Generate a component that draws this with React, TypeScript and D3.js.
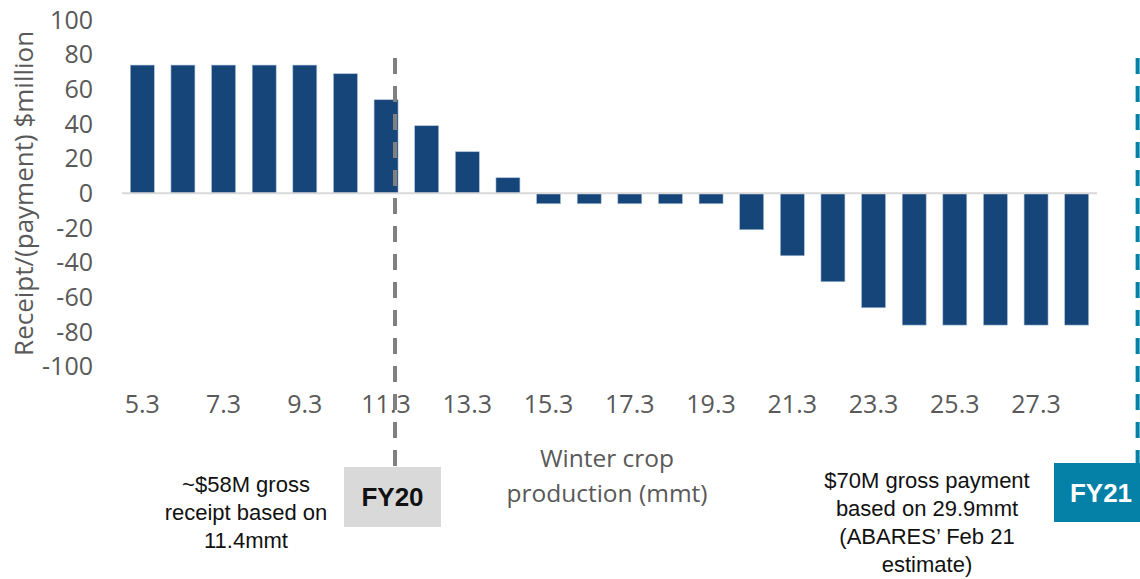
import React from "react";
import * as d3 from "d3";

const categories: string[] = [
  "5.3", "6.3", "7.3", "8.3", "9.3", "10.3", "11.3", "12.3", "13.3", "14.3", "15.3", "16.3",
  "17.3", "18.3", "19.3", "20.3", "21.3", "22.3", "23.3", "24.3", "25.3", "26.3", "27.3", "28.3",
];
const values: number[] = [
  74, 74, 74, 74, 74, 69, 54, 39, 24, 9, -6, -6,
  -6, -6, -6, -21, -36, -51, -66, -76, -76, -76, -76, -76,
];
const yTicks: number[] = [100, 80, 60, 40, 20, 0, -20, -40, -60, -80, -100];
const yTitle = "Receipt/(payment) $million";
const xTitle: string[] = ["Winter crop", "production (mmt)"];
const fy20Lines: string[] = ["~$58M gross", "receipt based on", "11.4mmt"];
const fy21Lines: string[] = ["$70M gross payment", "based on 29.9mmt", "(ABARES\u2019 Feb 21", "estimate)"];
// marker positions in mmt (on the category axis)
const fy20Pos = 11.52;
const fy21Pos = 29.8;

const W = 1140;
const H = 579;
const left = 122;
const right = 1097;
const yTop = 20;
const yBottom = 366.7;

const barColor = "#16457a";
const grey = "#595959";
const teal = "#0580a7";

export default function App() {
  const x = d3
    .scaleBand<string>()
    .domain(categories)
    .range([left, right])
    .paddingInner(0.41)
    .paddingOuter(0.205);
  const y = d3.scaleLinear().domain([-100, 100]).range([yBottom, yTop]);
  const step = x.step();
  const firstCenter = (x(categories[0]) as number) + x.bandwidth() / 2;
  const xPos = d3
    .scaleLinear()
    .domain([5.3, 6.3])
    .range([firstCenter, firstCenter + step]);

  const sans = "'Open Sans', 'Noto Sans', sans-serif";
  const arial = "'Liberation Sans', Arial, sans-serif";

  return (
    <div style={{ position: "absolute", left: 0, top: 0 }}>
      <svg width={W} height={H} style={{ display: "block" }}>
        <rect x={0} y={0} width={W} height={H} fill="#ffffff" />
        {/* bars */}
        {categories.map((c, i) => {
          const v = values[i];
          const y0 = y(0);
          const y1 = y(v);
          return (
            <rect
              key={c}
              x={x(c)}
              y={Math.min(y0, y1)}
              width={x.bandwidth()}
              height={Math.abs(y1 - y0)}
              fill={barColor}
              stroke="#a9bfd6"
              strokeWidth={0.6}
            />
          );
        })}
        {/* zero line */}
        <line x1={left} x2={right} y1={y(0)} y2={y(0)} stroke="#d9d9d9" strokeWidth={2} />
        {/* y tick labels */}
        {yTicks.map((t) => (
          <text
            key={t}
            x={93}
            y={y(t)}
            dy="0.35em"
            textAnchor="end"
            fontFamily={sans}
            fontSize={25}
            fill={grey}
          >
            {t}
          </text>
        ))}
        {/* x tick labels */}
        {categories.map((c, i) =>
          i % 2 === 0 ? (
            <text
              key={c}
              x={(x(c) as number) + x.bandwidth() / 2}
              y={413}
              textAnchor="middle"
              fontFamily={sans}
              fontSize={25}
              fill={grey}
            >
              {c}
            </text>
          ) : null
        )}
        {/* y title */}
        <text
          transform={`translate(33, ${y(0)}) rotate(-90)`}
          textAnchor="middle"
          fontFamily={sans}
          fontSize={26}
          fill={grey}
        >
          {yTitle}
        </text>
        {/* x title */}
        {xTitle.map((t, i) => (
          <text
            key={t}
            x={607}
            y={467 + i * 35}
            textAnchor="middle"
            fontFamily={sans}
            fontSize={24.5}
            fill={grey}
          >
            {t}
          </text>
        ))}
        {/* FY20 marker */}
        <line
          x1={xPos(fy20Pos)}
          x2={xPos(fy20Pos)}
          y1={58}
          y2={467}
          stroke="#808080"
          strokeWidth={4}
          strokeDasharray="16,12"
        />
        <rect x={344} y={467} width={97} height={60} fill="#d9d9d9" />
        <text
          x={392.5}
          y={506}
          textAnchor="middle"
          fontFamily={arial}
          fontWeight="bold"
          fontSize={26}
          fill="#111111"
        >
          FY20
        </text>
        {fy20Lines.map((t, i) => (
          <text
            key={t}
            x={246}
            y={492 + i * 28}
            textAnchor="middle"
            fontFamily={arial}
            fontSize={22}
            fill="#111111"
          >
            {t}
          </text>
        ))}
        {/* FY21 marker */}
        <line
          x1={xPos(fy21Pos)}
          x2={xPos(fy21Pos)}
          y1={58}
          y2={463}
          stroke={teal}
          strokeWidth={4}
          strokeDasharray="16,12"
        />
        <rect x={1054} y={463} width={86} height={59} fill={teal} />
        <text
          x={1101}
          y={502}
          textAnchor="middle"
          fontFamily={arial}
          fontWeight="bold"
          fontSize={26}
          fill="#ffffff"
        >
          FY21
        </text>
        {fy21Lines.map((t, i) => (
          <text
            key={t}
            x={927}
            y={488 + i * 28}
            textAnchor="middle"
            fontFamily={arial}
            fontSize={22}
            fill="#111111"
          >
            {t}
          </text>
        ))}
      </svg>
    </div>
  );
}
